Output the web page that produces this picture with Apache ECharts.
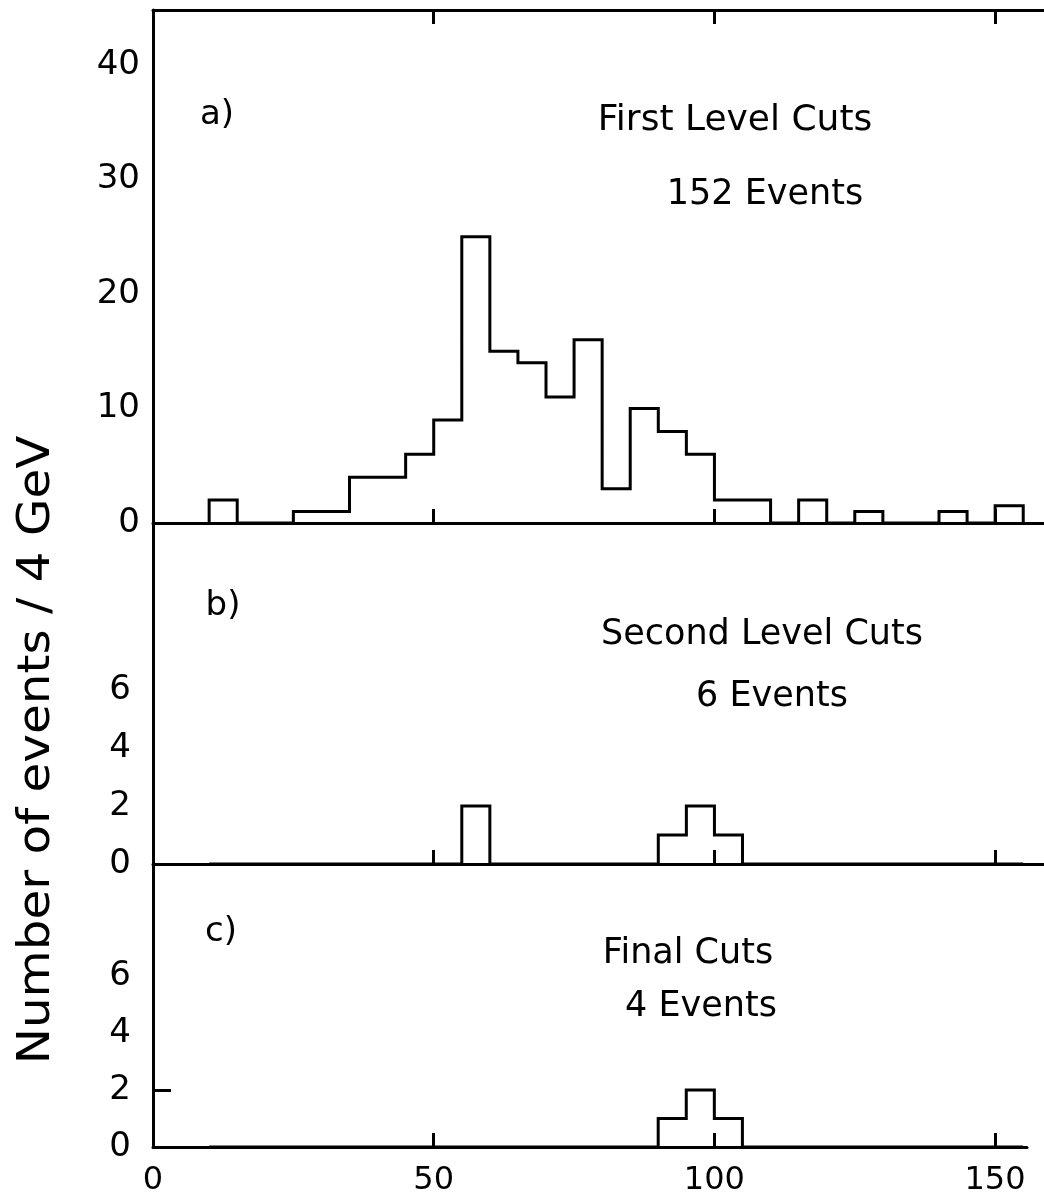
<!DOCTYPE html>
<html><head><meta charset="utf-8">
<script src="https://cdn.jsdelivr.net/npm/echarts@6/dist/echarts.min.js"></script>
<style>html,body{margin:0;padding:0;background:#fff}#c{width:1044px;height:1204px}</style>
</head><body><div id="c"></div>
<script>
// ---- data ----
const binStarts = [10,15,20,25,30,35,40,45,50,55,60,65,70,75,80,85,90,95,100,105,110,115,120,125,130,135,140,145,150];
const binWidth = 5;
const countsA = [2,0,0,1,1,4,4,6,9,25,15,14,11,16,3,10,8,6,2,2,0,2,0,1,0,0,1,0,1.5];
const countsB = [0,0,0,0,0,0,0,0,0,2,0,0,0,0,0,0,1,2,1,0,0,0,0,0,0,0,0,0,0];
const countsC = [0,0,0,0,0,0,0,0,0,0,0,0,0,0,0,0,1,2,1,0,0,0,0,0,0,0,0,0,0];
const xTickLabels = [0,50,100,150];
const xTickMarks = [50,100,150];
const yTicksA = [0,10,20,30,40];
const yTicksB = [0,2,4,6];
const yTicksC = [0,2,4,6];
const panelTags = ['a)','b)','c)'];
const panelTitles = ['First Level Cuts','Second Level Cuts','Final Cuts'];
const panelEvents = ['152 Events','6 Events','4 Events'];
const yTitle = 'Number of events / 4 GeV';

function outline(counts){
  const pts = [[binStarts[0], 0]];
  counts.forEach((v,i)=>{ pts.push([binStarts[i], v]); pts.push([binStarts[i]+binWidth, v]); });
  pts.push([binStarts[binStarts.length-1]+binWidth, 0]);
  return pts;
}

const FONT = '"DejaVu Sans", sans-serif';
const BLACK = '#000';
const axisLine = {show:true, lineStyle:{color:BLACK, width:3}};

function xAx(grid, pos, max, ticks, labels){
  return {
    type:'value', gridIndex:grid, position:pos, min:0, max:max,
    axisLine: axisLine,
    axisTick: {show:true, inside:true, length:14, lineStyle:{color:BLACK,width:3}, customValues: ticks},
    axisLabel: labels ? {show:true, customValues: labels, color:BLACK, fontFamily:FONT, fontSize:32, margin:18} : {show:false},
    splitLine:{show:false}
  };
}
function yAx(grid, max, labels, margin, ticks){
  return {
    type:'value', gridIndex:grid, min:0, max:max,
    axisLine: axisLine,
    axisTick: ticks ? {show:true, inside:true, length:18, lineStyle:{color:BLACK,width:3}, customValues: ticks} : {show:false},
    axisLabel: {show:true, customValues: labels, color:BLACK, fontFamily:FONT, fontSize:34, margin:margin},
    splitLine:{show:false}
  };
}

function txt(text, x, y, size, extra){
  return Object.assign({
    type:'text', x:x, y:y,
    style:{text:text, font:size+'px '+FONT, fill:BLACK, textAlign:'center', textVerticalAlign:'middle', align:'center', verticalAlign:'middle'}
  }, extra||{});
}

const chart = echarts.init(document.getElementById('c'), null, {renderer:'canvas'});
chart.setOption({
  animation:false,
  backgroundColor:'#fff',
  grid:[
    {left:153, top:10, width:891, height:513},
    {left:153, top:523, width:891, height:341},
    {left:153, top:864, width:874, height:283}
  ],
  xAxis:[
    xAx(0,'bottom',158.7,xTickMarks,null),
    xAx(0,'top',158.7,xTickMarks,null),
    xAx(1,'bottom',158.7,xTickMarks,null),
    xAx(2,'bottom',155.7,xTickMarks,xTickLabels)
  ],
  yAxis:[
    yAx(0,44.8,yTicksA,13,null),
    yAx(1,11.76,yTicksB,22,null),
    yAx(2,9.93,yTicksC,22,[2])
  ],
  series:[
    {type:'line', xAxisIndex:0, yAxisIndex:0, data:outline(countsA), symbol:'none', clip:false,
     lineStyle:{color:BLACK,width:3,join:'miter'}},
    {type:'line', xAxisIndex:2, yAxisIndex:1, data:outline(countsB), symbol:'none', clip:false,
     lineStyle:{color:BLACK,width:3,join:'miter'}},
    {type:'line', xAxisIndex:3, yAxisIndex:2, data:outline(countsC), symbol:'none', clip:false,
     lineStyle:{color:BLACK,width:3,join:'miter'}}
  ],
  graphic:[
    txt(yTitle, 38, 750, 44, {rotation:Math.PI/2, scaleX:1.1}),
    txt(panelTags[0], 217, 115, 34),
    txt(panelTags[1], 223, 606, 34),
    txt(panelTags[2], 221, 932, 34),
    txt(panelTitles[0], 735, 121, 36),
    txt(panelEvents[0], 765, 195, 35),
    txt(panelTitles[1], 762, 635, 35),
    txt(panelEvents[1], 772, 697, 35),
    txt(panelTitles[2], 688, 954, 35),
    txt(panelEvents[2], 701, 1007, 35)
  ]
});
</script>
</body></html>
